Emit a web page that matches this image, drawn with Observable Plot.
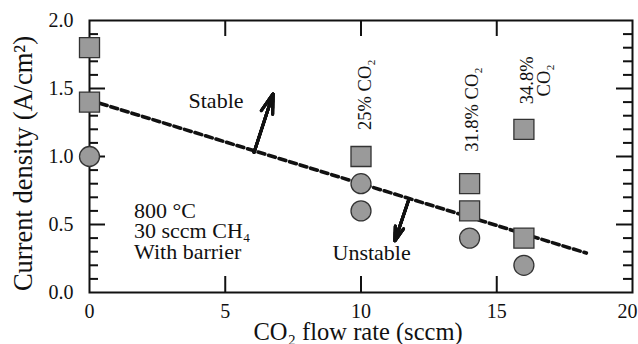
<!DOCTYPE html>
<html>
<head>
<meta charset="utf-8">
<script src="https://cdn.jsdelivr.net/npm/d3@7"></script>
<script src="https://cdn.jsdelivr.net/npm/@observablehq/plot@0.6"></script>
<style>
  body { margin: 0; background: #fff; }
  #chart svg { display: block; }
</style>
</head>
<body>
<div id="chart"></div>
<script>
// Stable operation (squares) and unstable operation (circles)
const squareFlow = [0, 0, 10, 14, 14, 16, 16];
const squareCurrent = [1.8, 1.4, 1.0, 0.8, 0.6, 1.2, 0.4];
const circleFlow = [0, 10, 10, 14, 16];
const circleCurrent = [1.0, 0.8, 0.6, 0.4, 0.2];

// Stability boundary (dashed)
const boundaryFlow = [0.4, 18.3];
const boundaryCurrent = [1.39, 0.29];

// Axis ticks
const xTickValues = [0, 5, 10, 15];
const xLastTick = [20];
const xInnerTicks = [5, 10, 15];
const yTickValues = [0, 0.5, 1.0, 1.5, 2.0];
const yInnerTicks = [0.5, 1.0, 1.5];
const yMinorTicks = [0.1, 0.2, 0.3, 0.4, 0.6, 0.7, 0.8, 0.9, 1.1, 1.2, 1.3, 1.4, 1.6, 1.7, 1.8, 1.9];
const xTitle = "CO₂ flow rate (sccm)";
const yTitle = "Current density (A/cm²)";

// CO2 fraction labels
const fractionText = ["25% CO₂", "31.8% CO₂", "34.8%\nCO₂"];
const fractionFlow = [10.18, 14.12, 16.44];
const fractionCurrent = [1.455, 1.345, 1.56];

// Region labels and direction arrows
const regionText = ["Stable", "Unstable"];
const regionFlow = [4.66, 10.39];
const regionCurrent = [1.41, 0.29];
const arrowFrom = [[6.06, 1.03], [11.77, 0.69]];
const arrowTo = [[6.76, 1.46], [11.25, 0.38]];

// Conditions
const conditionText = "800 °C\n30 sccm CH₄\nWith barrier";
const conditionFlow = 1.64;
const conditionCurrent = 0.655;

const W = 638, H = 344;
const mL = 89, mR = 6, mT = 20, mB = 52;
const innerW = W - mL - mR, innerH = H - mT - mB;
const serif = "Liberation Serif, Times New Roman, serif";
const ink = "#111";

const squares = squareFlow.map((x, i) => ({x, y: squareCurrent[i]}));
const circles = circleFlow.map((x, i) => ({x, y: circleCurrent[i]}));
const boundary = boundaryFlow.map((x, i) => ({x, y: boundaryCurrent[i]}));
const fractions = fractionText.map((t, i) => ({t, x: fractionFlow[i], y: fractionCurrent[i]}));
const regions = regionText.map((t, i) => ({t, x: regionFlow[i], y: regionCurrent[i]}));
const arrows = arrowFrom.map((a, i) => ({x1: a[0], y1: a[1], x2: arrowTo[i][0], y2: arrowTo[i][1]}));

// nested arrowheads give a solid-looking head
const arrowMarks = [16, 13, 10, 7, 4].map(h => Plot.arrow(arrows, {
  x1: "x1", y1: "y1", x2: "x2", y2: "y2",
  stroke: ink, strokeWidth: 3, headLength: h, headAngle: 34
}));

const chart = Plot.plot({
  width: W,
  height: H,
  marginLeft: mL,
  marginRight: mR,
  marginTop: mT,
  marginBottom: mB,
  style: {fontFamily: serif, background: "#fff", color: ink},
  x: {domain: [0, 20]},
  y: {domain: [0, 2]},
  marks: [
    // inward ticks
    Plot.tickY(yInnerTicks, {y: d => d, stroke: ink, strokeWidth: 2, insetRight: innerW - 16}),
    Plot.tickY(yMinorTicks, {y: d => d, stroke: ink, strokeWidth: 2, insetRight: innerW - 9}),
    Plot.tickY(yInnerTicks, {y: d => d, stroke: ink, strokeWidth: 2, insetLeft: innerW - 16}),
    Plot.tickY(yMinorTicks, {y: d => d, stroke: ink, strokeWidth: 2, insetLeft: innerW - 9}),
    Plot.tickX(xInnerTicks, {x: d => d, stroke: ink, strokeWidth: 2, insetTop: innerH - 16}),
    Plot.tickX(xInnerTicks, {x: d => d, stroke: ink, strokeWidth: 2, insetBottom: innerH - 16}),
    Plot.frame({stroke: ink, strokeWidth: 2}),
    Plot.axisX({ticks: xTickValues, tickSize: 0, tickPadding: 11, fontSize: 20, tickFormat: d3.format("d"), label: null}),
    Plot.axisX({ticks: xLastTick, tickSize: 0, tickPadding: 11, fontSize: 20, tickFormat: d3.format("d"), label: null, dx: -5}),
    Plot.axisY({ticks: yTickValues, tickSize: 0, tickPadding: 16, fontSize: 20, tickFormat: d3.format(".1f"), label: null}),
    // axis titles
    Plot.text([xTitle], {
      frameAnchor: "bottom", text: d => d, textAnchor: "middle", lineAnchor: "middle",
      fontSize: 24.5, dx: -3, dy: 40, fill: ink
    }),
    Plot.text([yTitle], {
      frameAnchor: "left", text: d => d, textAnchor: "middle", lineAnchor: "middle",
      fontSize: 26.5, rotate: -90, dx: -65.5, dy: 7, fill: ink
    }),
    // stability boundary
    Plot.line(boundary, {x: "x", y: "y", stroke: ink, strokeWidth: 3.6, strokeDasharray: "7,4"}),
    // data
    Plot.dot(circles, {x: "x", y: "y", r: 10, fill: "#9a9a9a", stroke: "#333", strokeWidth: 1.3}),
    Plot.dot(squares, {x: "x", y: "y", symbol: "square", r: 11.3, fill: "#9a9a9a", stroke: "#333", strokeWidth: 1.3}),
    ...arrowMarks,
    Plot.text(regions, {x: "x", y: "y", text: "t", fontSize: 22, fill: ink}),
    Plot.text([conditionText], {
      x: () => conditionFlow, y: () => conditionCurrent, text: d => d,
      textAnchor: "start", lineAnchor: "top", lineHeight: 0.93, fontSize: 22, fill: ink
    }),
    Plot.text(fractions, {
      x: "x", y: "y", text: "t", rotate: -90, fontSize: 18.5, lineHeight: 0.9, fill: ink
    })
  ]
});
document.getElementById("chart").appendChild(chart);
</script>
</body>
</html>
